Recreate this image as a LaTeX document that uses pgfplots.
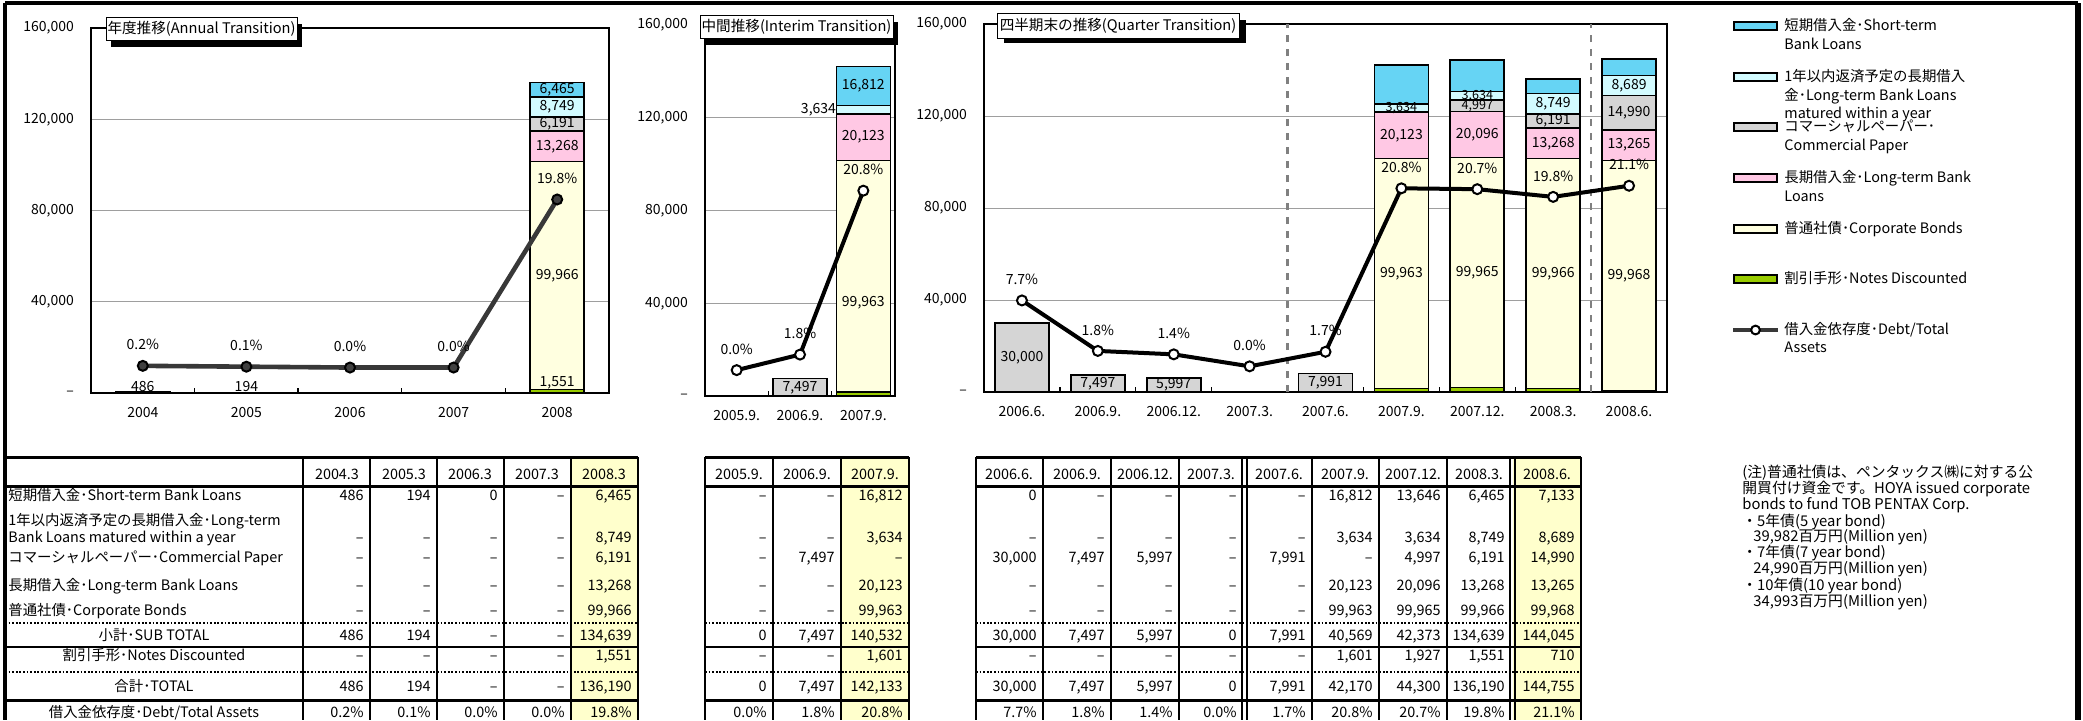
\documentclass[border=0pt]{standalone}
\usepackage{fontspec}
\setmainfont{Noto Sans CJK JP}
\usepackage{pgfplots}
\pgfplotsset{compat=1.18}
\definecolor{cST}{HTML}{66D4F4}
\definecolor{cLTW}{HTML}{D2FBFF}
\definecolor{cCP}{HTML}{D5D5D5}
\definecolor{cLT}{HTML}{FFC8E4}
\definecolor{cBD}{HTML}{FFFFE0}
\definecolor{cND}{HTML}{99CC00}
\definecolor{cYel}{HTML}{FFFFCC}
\newcommand\fs[1]{\fontsize{#1}{#1}\selectfont}
\pgfkeys{/pgfplots/table/tb/.style={x=x, y=y, meta=l, row sep=\\}}
\pgfplotsset{
  barax/.style={
    scale only axis, anchor=south west,
    ybar stacked, bar width=27pt,
    ymin=0, ymax=160000, xmin=-0.5,
    scaled y ticks=false,
    ytick={0,40000,80000,120000,160000},
    yticklabels={{--},{40,000},{80,000},{120,000},{160,000}},
    ymajorgrids, major grid style={line width=0.5pt, draw=black!38},
    tick pos=left,
    major tick length=0pt, minor tick length=2.6pt, tick align=inside,
    minor x tick num=1,
    tick style={black, line width=0.7pt},
    yticklabel style={font=\fs{7}, xshift=-5pt},
    xticklabel style={font=\fs{7}, anchor=center, yshift=-10pt},
    axis line style={line width=1.3pt},
  },
  bseg/.style={draw=black, line width=0.8pt, fill=#1},
  labax/.style={scale only axis, anchor=south west, hide axis, ymin=0, ymax=160000, xmin=-0.5, clip=false},
  lab/.style={draw=none, mark=none, point meta=explicit symbolic, nodes near coords,
    nodes near coords style={font=\fs{7}, text=black, anchor=center, inner sep=0pt}},
  lineax/.style={scale only axis, anchor=south west, hide axis, ymin=-3, ymax=40, xmin=-0.5, clip=false},
  pline/.style={draw=black, line width=2pt, mark=*, mark size=2.5pt, mark options={fill=white, draw=black, line width=1pt, solid}, point meta=explicit symbolic, nodes near coords, nodes near coords style={font=\fs{7}, text=black, anchor=south, yshift=4pt}},
}
\tikzset{tt/.style={font=\fs{7.2}, inner sep=0pt, text height=5.3pt, text depth=1.4pt},
  lg/.style={font=\fs{7.2}, inner sep=0pt, anchor=west, text height=5.4pt, text depth=1.4pt},
  nt/.style={font=\fs{7.4}, inner sep=0pt, anchor=west, text height=5.6pt, text depth=1.4pt}}
\begin{document}
\begin{tikzpicture}
% ===== Annual =====
\begin{axis}[barax, at={(45.5pt,163.5pt)}, width=259pt, height=182.5pt, xmax=4.5,
  xtick={0,1,2,3,4}, xticklabels={2004,2005,2006,2007,2008}]
\addplot[bseg=cND] coordinates {(0,0) (1,0) (2,0) (3,0) (4,1551)};
\addplot[bseg=cBD] coordinates {(0,0) (1,0) (2,0) (3,0) (4,99966)};
\addplot[bseg=cLT] coordinates {(0,0) (1,0) (2,0) (3,0) (4,13268)};
\addplot[bseg=cCP] coordinates {(0,0) (1,0) (2,0) (3,0) (4,6191)};
\addplot[bseg=cLTW] coordinates {(0,0) (1,0) (2,0) (3,0) (4,8749)};
\addplot[bseg=cST] coordinates {(0,486) (1,194) (2,0) (3,0) (4,6465)};
\end{axis}
\begin{axis}[labax, at={(45.5pt,163.5pt)}, width=259pt, height=182.5pt, xmax=4.5]
\addplot[lab] table[tb] {x y l\\ 0 3000 486\\ 1 3000 194\\ 4 4400 1,551\\ 4 51534 99,966\\ 4 108151 13,268\\ 4 117880 6,191\\ 4 125350 8,749\\ 4 132958 6,465\\};
\end{axis}
\begin{axis}[lineax, at={(45.5pt,163.5pt)}, width=259pt, height=182.5pt, xmax=4.5]
\addplot[pline, draw=black!78, line width=2.3pt, mark options={fill=black!75, draw=black, line width=1pt, solid}]
  coordinates {(0,0.2)[0.2\%] (1,0.1)[0.1\%] (2,0.0)[0.0\%] (3,0.0)[0.0\%] (4,19.8)[19.8\%]};
\end{axis}
% ===== Interim =====
\begin{axis}[barax, at={(352.5pt,162pt)}, width=95pt, height=185.5pt, xmax=2.5,
  xtick={0,1,2}, xticklabels={2005.9.,2006.9.,2007.9.}]
\addplot[bseg=cND] coordinates {(0,0) (1,0) (2,1601)};
\addplot[bseg=cBD] coordinates {(0,0) (1,0) (2,99963)};
\addplot[bseg=cLT] coordinates {(0,0) (1,0) (2,20123)};
\addplot[bseg=cCP] coordinates {(0,0) (1,7497) (2,0)};
\addplot[bseg=cLTW] coordinates {(0,0) (1,0) (2,3634)};
\addplot[bseg=cST] coordinates {(0,0) (1,0) (2,16812)};
\end{axis}
\begin{axis}[labax, at={(352.5pt,162pt)}, width=95pt, height=185.5pt, xmax=2.5]
\addplot[lab] table[tb] {x y l\\ 1 3748 7,497\\ 2 40100 99,963\\ 2 111626 20,123\\ 2 133727 16,812\\};
\node[font=\fs{7}, anchor=east, inner sep=0pt] at (axis cs:1.574,123504) {3,634};
\end{axis}
\begin{axis}[lineax, at={(352.5pt,162pt)}, width=95pt, height=185.5pt, xmax=2.5]
\addplot[pline] coordinates {(0,0.0)[0.0\%] (1,1.8)[1.8\%] (2,20.8)[20.8\%]};
\end{axis}
% ===== Quarter =====
\begin{axis}[barax, at={(492pt,164pt)}, width=341.5pt, height=184pt, xmax=8.5,
  xtick={0,...,8}, xticklabels={2006.6.,2006.9.,2006.12.,2007.3.,2007.6.,2007.9.,2007.12.,2008.3.,2008.6.},
  extra x ticks={3.5,7.5}, extra x tick labels={},
  extra x tick style={grid=major, major grid style={draw=black!50, line width=1.1pt, dash pattern=on 3.5pt off 3.5pt}}]
\addplot[bseg=cND] coordinates {(0,0) (1,0) (2,0) (3,0) (4,0) (5,1601) (6,1927) (7,1551) (8,710)};
\addplot[bseg=cBD] coordinates {(0,0) (1,0) (2,0) (3,0) (4,0) (5,99963) (6,99965) (7,99966) (8,99968)};
\addplot[bseg=cLT] coordinates {(0,0) (1,0) (2,0) (3,0) (4,0) (5,20123) (6,20096) (7,13268) (8,13265)};
\addplot[bseg=cCP] coordinates {(0,30000) (1,7497) (2,5997) (3,0) (4,7991) (5,0) (6,4997) (7,6191) (8,14990)};
\addplot[bseg=cLTW] coordinates {(0,0) (1,0) (2,0) (3,0) (4,0) (5,3634) (6,3634) (7,8749) (8,8689)};
\addplot[bseg=cST] coordinates {(0,0) (1,0) (2,0) (3,0) (4,0) (5,16812) (6,13646) (7,6465) (8,7133)};
\end{axis}
\begin{axis}[labax, at={(492pt,164pt)}, width=341.5pt, height=184pt, xmax=8.5]
\addplot[lab] table[tb] {x y l\\ 0 15000 30,000\\ 1 3748 7,497\\ 2 2998 5,997\\ 4 3996 7,991\\
  5 51582 99,963\\ 5 111626 20,123\\ 6 51910 99,965\\ 6 111940 20,096\\
  7 51534 99,966\\ 7 108151 13,268\\ 7 117880 6,191\\ 7 125350 8,749\\
  8 50694 99,968\\ 8 107310 13,265\\ 8 121438 14,990\\ 8 133278 8,689\\};
\addplot[lab, nodes near coords style={font=\fs{6.3}}] table[tb] {x y l\\ 5 123504 3,634\\ 6 124487 4,997\\ 6 128802 3,634\\};
\end{axis}
\begin{axis}[lineax, at={(492pt,164pt)}, width=341.5pt, height=184pt, xmax=8.5]
\addplot[pline] coordinates {(0,7.7)[7.7\%] (1,1.8)[1.8\%] (2,1.4)[1.4\%] (3,0.0)[0.0\%] (4,1.7)[1.7\%] (5,20.8)[20.8\%] (6,20.7)[20.7\%] (7,19.8)[19.8\%] (8,21.1)[21.1\%]};
\end{axis}
% ===== decorations in pixel coordinates (y downward) =====
\begin{scope}[x=0.5pt, y=-0.5pt, shift={(0pt,360pt)}]
  % outer frame
  \draw[line width=2pt] (5,3) -- (2078,3);
  \draw[line width=2pt] (5,3) -- (5,720);
  \draw[line width=2.6pt] (2078,3) -- (2078,720);
  % title boxes
  \fill[black] (111,24) rectangle (302,47);
  \draw[fill=white, line width=0.5pt] (106,17) rectangle (297,40);
  \node[font=\fs{7.3}, inner sep=0pt] at (201.5,28.5) {年度推移(Annual Transition)};
  \fill[black] (705,22) rectangle (898,45);
  \draw[fill=white, line width=0.5pt] (700,15) rectangle (893,38);
  \node[font=\fs{7.3}, inner sep=0pt] at (796.5,26.5) {中間推移(Interim Transition)};
  \fill[black] (1004,20) rectangle (1246,43);
  \draw[fill=white, line width=0.5pt] (997,13) rectangle (1239,38);
  \node[font=\fs{7.3}, inner sep=0pt] at (1118,25.5) {四半期末の推移(Quarter Transition)};
  % legend
  \foreach \yy/\cc in {26/cST, 77/cLTW, 127/cCP, 178/cLT, 229/cBD, 279/cND}
    \draw[line width=1.2pt, fill=\cc] (1734,\yy-4) rectangle (1777,\yy+4);
  \draw[line width=2.2pt, black!78] (1733,330) -- (1778,330);
  \draw[line width=1pt, fill=white] (1755.5,330) circle (2.2pt);
  \node[lg] at (1784,26) {短期借入金･Short-term};
  \node[lg] at (1784,45) {Bank Loans};
  \node[lg] at (1784,77) {1年以内返済予定の長期借入};
  \node[lg] at (1784,96) {金･Long-term Bank Loans};
  \node[lg] at (1784,114) {matured within a year};
  \node[lg] at (1784,127) {コマーシャルペーパー･};
  \node[lg] at (1784,146) {Commercial Paper};
  \node[lg] at (1784,178) {長期借入金･Long-term Bank};
  \node[lg] at (1784,197) {Loans};
  \node[lg] at (1784,229) {普通社債･Corporate Bonds};
  \node[lg] at (1784,279) {割引手形･Notes Discounted};
  \node[lg] at (1784,330) {借入金依存度･Debt/Total};
  \node[lg] at (1784,348) {Assets};
  % tables: fills
  \fill[cYel] (571,457) rectangle (638,720);
  \fill[cYel] (841,457) rectangle (909,720);
  \fill[cYel] (1513,457) rectangle (1581,720);
  % horizontal lines
  \foreach \xa/\xb in {5/638, 705/909, 976/1581} {
    \draw[line width=1.5pt] (\xa,457) -- (\xb,457);
    \draw[line width=1.5pt] (\xa,486) -- (\xb,486);
    \draw[line width=1.4pt, dash pattern=on 0.9pt off 0.9pt] (\xa,623) -- (\xb,623);
    \draw[line width=1.3pt] (\xa,647) -- (\xb,647);
    \draw[line width=1.4pt, dash pattern=on 0.9pt off 0.9pt] (\xa,672) -- (\xb,672);
    \draw[line width=1.5pt] (\xa,700) -- (\xb,700);
  }
  % vertical lines
  \foreach \xx in {303,370,437,504,571,638,705,773,841,909,976,1043,1111,1179,1312,1379,1447,1581}
    \draw[line width=1.3pt] (\xx,457) -- (\xx,720);
  \foreach \xx in {1242,1247,1510,1515}
    \draw[line width=0.9pt] (\xx,457) -- (\xx,720);
  % headers
  \foreach \xx/\tx in {337/2004.3, 404/2005.3, 470/2006.3, 537/2007.3, 604/2008.3,
     739/2005.9., 807/2006.9., 875/2007.9.,
     1009/2006.6., 1077/2006.9., 1145/2006.12., 1211/2007.3., 1279/2007.6., 1345/2007.9., 1413/2007.12., 1479/2008.3., 1547/2008.6.}
    \node[tt] at (\xx,476) {\tx};
  % row labels
  \node[tt, anchor=west] at (8,497) {短期借入金･Short-term Bank Loans};
  \node[tt, anchor=west] at (8,522) {1年以内返済予定の長期借入金･Long-term};
  \node[tt, anchor=west] at (8,539) {Bank Loans matured within a year};
  \node[tt, anchor=west] at (8,559) {コマーシャルペーパー･Commercial Paper};
  \node[tt, anchor=west] at (8,587) {長期借入金･Long-term Bank Loans};
  \node[tt, anchor=west] at (8,612) {普通社債･Corporate Bonds};
  \node[tt] at (154,637) {小計･SUB TOTAL};
  \node[tt] at (154,657) {割引手形･Notes Discounted};
  \node[tt] at (154,688) {合計･TOTAL};
  \node[tt] at (154,714) {借入金依存度･Debt/Total Assets};
  % annual values
  \foreach \yy/\va/\vb/\vc/\vd/\ve in {
     497/486/194/0/--/{6,465}, 539/--/--/--/--/{8,749}, 559/--/--/--/--/{6,191},
     587/--/--/--/--/{13,268}, 612/--/--/--/--/{99,966}, 637/486/194/--/--/{134,639},
     657/--/--/--/--/{1,551}, 688/486/194/--/--/{136,190}, 714/0.2\%/0.1\%/0.0\%/0.0\%/19.8\%} {
    \node[tt,anchor=east] at (364,\yy) {\va};
    \node[tt,anchor=east] at (431,\yy) {\vb};
    \node[tt,anchor=east] at (498,\yy) {\vc};
    \node[tt,anchor=east] at (565,\yy) {\vd};
    \node[tt,anchor=east] at (632,\yy) {\ve};
  }
  % interim values
  \foreach \yy/\va/\vb/\vc in {
     497/--/--/{16,812}, 539/--/--/{3,634}, 559/--/{7,497}/--, 587/--/--/{20,123},
     612/--/--/{99,963}, 637/0/{7,497}/{140,532}, 657/--/--/{1,601},
     688/0/{7,497}/{142,133}, 714/0.0\%/1.8\%/20.8\%} {
    \node[tt,anchor=east] at (767,\yy) {\va};
    \node[tt,anchor=east] at (835,\yy) {\vb};
    \node[tt,anchor=east] at (903,\yy) {\vc};
  }
  % quarter values
  \foreach \yy/\va/\vb/\vc/\vd/\ve/\vf/\vg/\vh/\vi in {
     497/0/--/--/--/--/{16,812}/{13,646}/{6,465}/{7,133},
     539/--/--/--/--/--/{3,634}/{3,634}/{8,749}/{8,689},
     559/{30,000}/{7,497}/{5,997}/--/{7,991}/--/{4,997}/{6,191}/{14,990},
     587/--/--/--/--/--/{20,123}/{20,096}/{13,268}/{13,265},
     612/--/--/--/--/--/{99,963}/{99,965}/{99,966}/{99,968},
     637/{30,000}/{7,497}/{5,997}/0/{7,991}/{40,569}/{42,373}/{134,639}/{144,045},
     657/--/--/--/--/--/{1,601}/{1,927}/{1,551}/710,
     688/{30,000}/{7,497}/{5,997}/0/{7,991}/{42,170}/{44,300}/{136,190}/{144,755},
     714/7.7\%/1.8\%/1.4\%/0.0\%/1.7\%/20.8\%/20.7\%/19.8\%/21.1\%} {
    \node[tt,anchor=east] at (1037,\yy) {\va};
    \node[tt,anchor=east] at (1105,\yy) {\vb};
    \node[tt,anchor=east] at (1173,\yy) {\vc};
    \node[tt,anchor=east] at (1237,\yy) {\vd};
    \node[tt,anchor=east] at (1306,\yy) {\ve};
    \node[tt,anchor=east] at (1373,\yy) {\vf};
    \node[tt,anchor=east] at (1441,\yy) {\vg};
    \node[tt,anchor=east] at (1505,\yy) {\vh};
    \node[tt,anchor=east] at (1575,\yy) {\vi};
  }
  % note
  \node[nt] at (1742,473) {(注)普通社債は、ペンタックス㈱に対する公};
  \node[nt] at (1742,489) {開買付け資金です。HOYA issued corporate};
  \node[nt] at (1742,505) {bonds to fund TOB PENTAX Corp.};
  \node[nt] at (1742,522) {・5年債(5 year bond)};
  \node[nt] at (1753,537) {39,982百万円(Million yen)};
  \node[nt] at (1742,553) {・7年債(7 year bond)};
  \node[nt] at (1753,569) {24,990百万円(Million yen)};
  \node[nt] at (1742,586) {・10年債(10 year bond)};
  \node[nt] at (1753,602) {34,993百万円(Million yen)};
\end{scope}
\pgfresetboundingbox
\path[use as bounding box] (0,0) rectangle (1041.5pt,360pt);
\end{tikzpicture}
\end{document}
